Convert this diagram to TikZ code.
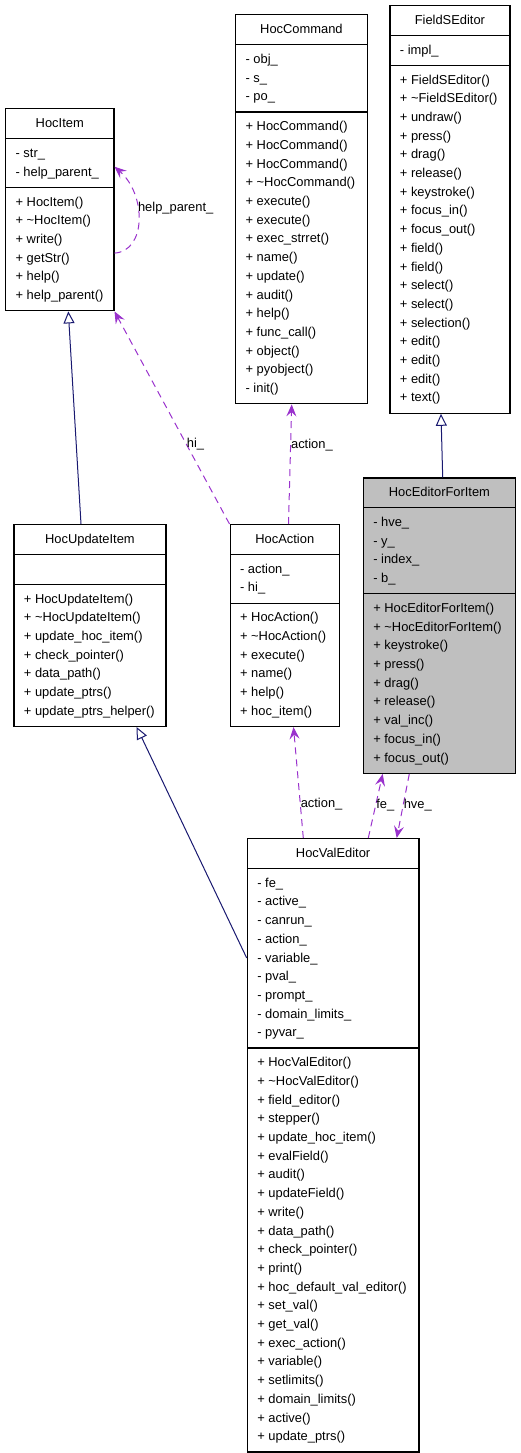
\documentclass[tikz,border=0pt]{standalone}
\usepackage{fontspec}
\setmainfont{Liberation Sans}
\usetikzlibrary{arrows.meta,shapes.multipart,positioning}
\definecolor{edgepurple}{HTML}{9A32CD}
\definecolor{edgenavy}{HTML}{191970}

\begin{document}
\begin{tikzpicture}[x=1pt,y=1pt,>={Stealth[length=12pt,width=10pt,inset=4.5pt]},
  class node/.style={rectangle split,rectangle split parts=3,draw,line width=1.2pt,fill=white,
    inner xsep=10pt,inner ysep=5pt,align=left,rectangle split part align={center,left,left},
    anchor=north west,font=\fontsize{12.9}{18.7}\selectfont},
  inherit/.style={draw=edgenavy,line width=1pt,-{Triangle[open,fill=white,length=12pt,width=11pt]}},
  uses/.style={draw=edgepurple,line width=1pt,dash pattern=on 7pt off 5pt,->},
  link label/.style={font=\fontsize{12.9}{15}\selectfont,inner sep=0pt,right}]
  \useasboundingbox (0,0) rectangle (520,-1453);

  % classes
  \node[class node,minimum width=108.3pt] (hocitem) at (5,-108.3) {HocItem\strut
    \nodepart{two}\strut - str\_\\ - help\_parent\_\strut
    \nodepart{three}\strut + HocItem()\\ + \textasciitilde HocItem()\\ + write()\\ + getStr()\\
    + help()\\ + help\_parent()\strut};
  \node[class node,minimum width=131.7pt] (hoccommand) at (235,-14.3) {HocCommand\strut
    \nodepart{two}\strut - obj\_\\ - s\_\\ - po\_\strut
    \nodepart{three}\strut + HocCommand()\\ + HocCommand()\\ + HocCommand()\\ + \textasciitilde HocCommand()\\
    + execute()\\ + execute()\\ + exec\_strret()\\ + name()\\ + update()\\ + audit()\\ + help()\\
    + func\_call()\\ + object()\\ + pyobject()\\ - init()\strut};
  \node[class node,minimum width=120pt] (fieldseditor) at (389.3,-5) {FieldSEditor\strut
    \nodepart{two}\strut - impl\_\strut
    \nodepart{three}\strut + FieldSEditor()\\ + \textasciitilde FieldSEditor()\\ + undraw()\\ + press()\\
    + drag()\\ + release()\\ + keystroke()\\ + focus\_in()\\ + focus\_out()\\ + field()\\ + field()\\
    + select()\\ + select()\\ + selection()\\ + edit()\\ + edit()\\ + edit()\\ + text()\strut};
  \node[class node,minimum width=152.3pt,fill=black!25] (hoceditorforitem) at (362.7,-477.3) {HocEditorForItem\strut
    \nodepart{two}\strut - hve\_\\ - y\_\\ - index\_\\ - b\_\strut
    \nodepart{three}\strut + HocEditorForItem()\\ + \textasciitilde HocEditorForItem()\\ + keystroke()\\
    + press()\\ + drag()\\ + release()\\ + val\_inc()\\ + focus\_in()\\ + focus\_out()\strut};
  \node[class node,minimum width=152pt] (hocupdateitem) at (13.3,-524) {HocUpdateItem\strut
    \nodepart{two}\strut
    \nodepart{three}\strut + HocUpdateItem()\\ + \textasciitilde HocUpdateItem()\\ + update\_hoc\_item()\\
    + check\_pointer()\\ + data\_path()\\ + update\_ptrs()\\ + update\_ptrs\_helper()\strut};
  \node[class node,minimum width=109.4pt,right=63pt of hocupdateitem.north east,anchor=north west] (hocaction) {HocAction\strut
    \nodepart{two}\strut - action\_\\ - hi\_\strut
    \nodepart{three}\strut + HocAction()\\ + \textasciitilde HocAction()\\ + execute()\\ + name()\\
    + help()\\ + hoc\_item()\strut};
  \node[class node,minimum width=171.6pt] (hocvaleditor) at (246.7,-838) {HocValEditor\strut
    \nodepart{two}\strut - fe\_\\ - active\_\\ - canrun\_\\ - action\_\\ - variable\_\\ - pval\_\\
    - prompt\_\\ - domain\_limits\_\\ - pyvar\_\strut
    \nodepart{three}\strut + HocValEditor()\\ + \textasciitilde HocValEditor()\\ + field\_editor()\\
    + stepper()\\ + update\_hoc\_item()\\ + evalField()\\ + audit()\\ + updateField()\\ + write()\\
    + data\_path()\\ + check\_pointer()\\ + print()\\ + hoc\_default\_val\_editor()\\ + set\_val()\\
    + get\_val()\\ + exec\_action()\\ + variable()\\ + setlimits()\\ + domain\_limits()\\
    + active()\\ + update\_ptrs()\strut};

  % inheritance
  \draw[inherit] ([xshift=67.7pt]hocupdateitem.north west) -- ([xshift=63.3pt]hocitem.south west);
  \draw[inherit] ([yshift=-120pt]hocvaleditor.north west) -- ([xshift=123.4pt]hocupdateitem.south west);
  \draw[inherit] ([xshift=80pt]hoceditorforitem.north west) -- ([xshift=51.7pt]fieldseditor.south west);

  % usage
  \draw[uses] ([yshift=58.3pt]hocitem.south east) .. controls +(32,2) and +(32,-28) ..
    node[link label,pos=.6] (lblparent) {help\_parent\_} ([yshift=-58.4pt]hocitem.north east);
  \draw[uses] (hocaction.north west) -- node[link label,pos=.375] (lblhi) {hi\_} (hocitem.south east);
  \draw[uses] ([xshift=59pt]hocaction.north west) -- node[link label,pos=.66] (lblcmd) {action\_}
    ([xshift=56.7pt]hoccommand.south west);
  \draw[uses] ([xshift=56.6pt]hocvaleditor.north west) -- node[link label,pos=.31] (lblact) {action\_}
    ([xshift=64pt]hocaction.south west);
  \draw[uses] ([xshift=121.6pt]hocvaleditor.north west) -- node[link label,pos=.52] (lblfe) {fe\_}
    ([xshift=20pt]hoceditorforitem.south west);
  \draw[uses] ([xshift=46.6pt]hoceditorforitem.south west) -- node[link label,pos=.48] (lblhve) {hve\_}
    ([xshift=150pt]hocvaleditor.north west);
\end{tikzpicture}
\end{document}
